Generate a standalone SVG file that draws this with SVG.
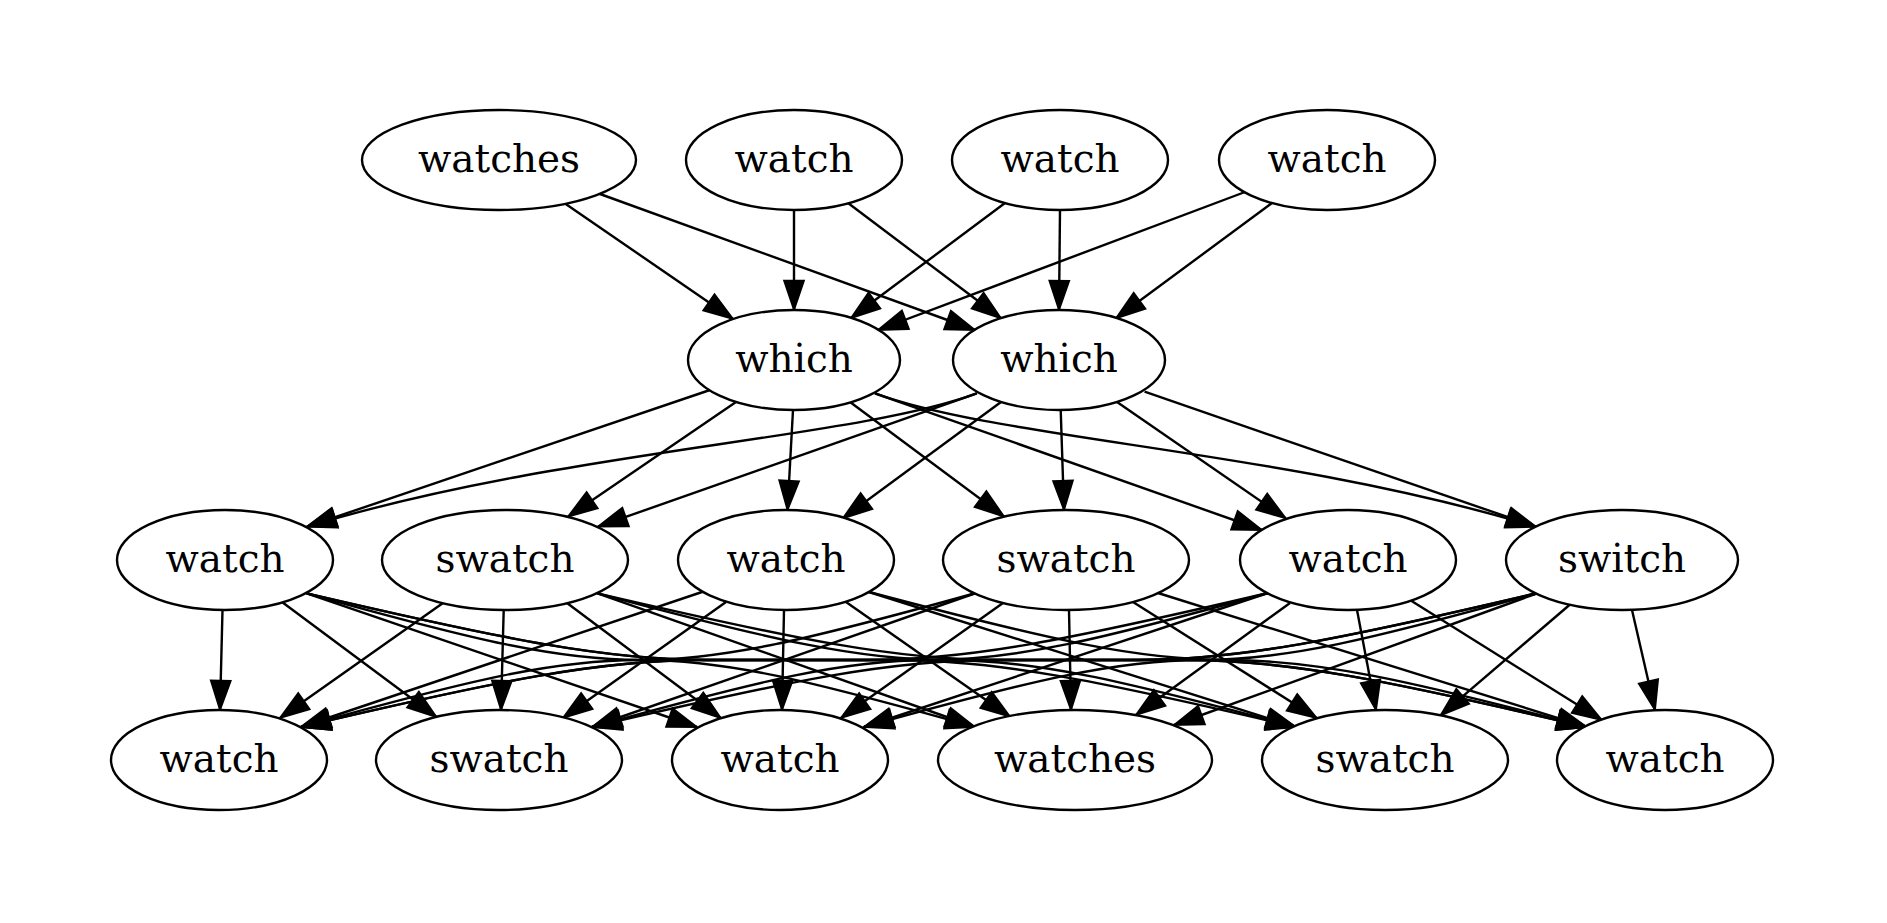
<svg xmlns="http://www.w3.org/2000/svg" width="1887" height="923" viewBox="0 0 1887 923">
<defs>
<style>
.e{fill:none;stroke:#000;stroke-width:2.4;marker-end:url(#ah)}
.n ellipse{fill:#fff;stroke:#000;stroke-width:2.4}
.n text{font-family:"DejaVu Serif","Liberation Serif",serif;font-size:38.9px;text-anchor:middle;fill:#000}
</style>
<marker id="ah" viewBox="0 0 30 20" refX="29" refY="10" markerWidth="30" markerHeight="20" markerUnits="userSpaceOnUse" orient="auto" overflow="visible">
<path d="M0,0.5 L28,10 L0,19.5 Z" fill="#000" stroke="#000" stroke-width="2.4"/>
</marker>
</defs>
<rect width="1887" height="923" fill="#fff"/>
<g id="edges">
<path class="e" d="M565,203.5 L733,319"/>
<path class="e" d="M600,194 L975,330"/>
<path class="e" d="M794,210 L794,310"/>
<path class="e" d="M848,203 L1001,318.3"/>
<path class="e" d="M1005,203 L851,318"/>
<path class="e" d="M1060,210 L1059,310"/>
<path class="e" d="M1245,192 L878,330"/>
<path class="e" d="M1272,203 L1116,318.3"/>

<path class="e" d="M710,390 L307,526.7"/>
<path class="e" d="M736,402 L568,516.7"/>
<path class="e" d="M793,410 L787.5,510"/>
<path class="e" d="M850,402 L1004,516.5"/>
<path class="e" d="M875,393.3 L1262,530"/>
<path class="e" d="M875,393.3 C1002,440 1283,450 1535.7,526.7"/>
<path class="e" d="M976.8,393.3 C850,440 560,450 307,526.7"/>
<path class="e" d="M976.8,393.3 L598,526.7"/>
<path class="e" d="M1001,402 L842.9,518.3"/>
<path class="e" d="M1060.7,410 L1064,510"/>
<path class="e" d="M1117,402 L1285.7,518.3"/>
<path class="e" d="M1144.6,391.7 L1535.7,526.7"/>

<path class="e" d="M222.5,610 L220,710"/>
<path class="e" d="M282,602 L436.5,717"/>
<path class="e" d="M306.7,593.3 L697,727"/>
<path class="e" d="M306.7,593.3 C473.7,640 557.2,660 640.7,660 L641,660 C725.5,660 808,680 975,727"/>
<path class="e" d="M306.7,593.3 C506.7,640 606.7,660 706.7,660 L895.7,660 C995.7,660 1095.7,680 1295.7,727"/>
<path class="e" d="M306.7,593.3 C506.7,640 606.7,660 706.7,660 L1186.5,660 C1286.5,660 1386.5,680 1586.5,727"/>

<path class="e" d="M443,603 L280,718"/>
<path class="e" d="M503.7,610 L501,710"/>
<path class="e" d="M567,603 L720.8,718"/>
<path class="e" d="M597.5,593.3 L975,727"/>
<path class="e" d="M597.5,593.3 C772,640 859.3,660 946.5,660 L946.7,660 C1034,660 1121.2,680 1295.7,727"/>
<path class="e" d="M597.5,593.3 C797.5,640 897.5,660 997.5,660 L1186.5,660 C1286.5,660 1386.5,680 1586.5,727"/>

<path class="e" d="M702,592 L301,727"/>
<path class="e" d="M726,602 L563,718"/>
<path class="e" d="M784,610 L782,710"/>
<path class="e" d="M846,602 L1010,716.7"/>
<path class="e" d="M869,592 L1295.7,727"/>
<path class="e" d="M869,592 C1048.4,639.6 1138,660 1227.8,660 L1227.9,660 C1317.4,660 1407.1,680 1586.5,727"/>

<path class="e" d="M976,593 C807.3,640 722.9,660 638.5,660 L638.4,660 C554.1,660 469.8,680 301,727"/>
<path class="e" d="M976,593 L592,727"/>
<path class="e" d="M1003,603 L841,718"/>
<path class="e" d="M1069,610 L1071,710"/>
<path class="e" d="M1133,602 L1316.7,718"/>
<path class="e" d="M1158,593 L1586.5,727"/>

<path class="e" d="M1268,593 C1068,640 968,660 868,660 L701,660 C601,660 501,680 301,727"/>
<path class="e" d="M1268,593 C1099,640 1014.5,660 930,660 L929.9,660 C845.5,660 761,680 592,727"/>
<path class="e" d="M1268,593 L864,727"/>
<path class="e" d="M1290,603 L1136,715"/>
<path class="e" d="M1357,610 L1376,710"/>
<path class="e" d="M1410,600 L1601.8,720"/>

<path class="e" d="M1538,593 C1338,640 1238,660 1138,660 L701,660 C601,660 501,680 301,727"/>
<path class="e" d="M1538,593 C1338,640 1238,660 1138,660 L992,660 C892,660 792,680 592,727"/>
<path class="e" d="M1538,593 C1369.5,640 1285.3,660 1201,660 L1200.9,660 C1116.8,660 1032.5,680 864,727"/>
<path class="e" d="M1538,593 L1174,725"/>
<path class="e" d="M1570,604.5 L1440.5,715.4"/>
<path class="e" d="M1632,610 L1655,710"/>
</g>
<g id="n_watches_top" class="n"><ellipse cx="499" cy="160" rx="137" ry="50"/><text x="499" y="172">watches</text></g>
<g id="n_watch_top1" class="n"><ellipse cx="794" cy="160" rx="108" ry="50"/><text x="794" y="172">watch</text></g>
<g id="n_watch_top2" class="n"><ellipse cx="1060" cy="160" rx="108" ry="50"/><text x="1060" y="172">watch</text></g>
<g id="n_watch_top3" class="n"><ellipse cx="1327" cy="160" rx="108" ry="50"/><text x="1327" y="172">watch</text></g>

<g id="n_which1" class="n"><ellipse cx="794" cy="360" rx="106" ry="50"/><text x="794" y="372">which</text></g>
<g id="n_which2" class="n"><ellipse cx="1059" cy="360" rx="106" ry="50"/><text x="1059" y="372">which</text></g>

<g id="n_watch_m1" class="n"><ellipse cx="225" cy="560" rx="108" ry="50"/><text x="225" y="572">watch</text></g>
<g id="n_swatch_m1" class="n"><ellipse cx="505" cy="560" rx="123" ry="50"/><text x="505" y="572">swatch</text></g>
<g id="n_watch_m2" class="n"><ellipse cx="786" cy="560" rx="108" ry="50"/><text x="786" y="572">watch</text></g>
<g id="n_swatch_m2" class="n"><ellipse cx="1066" cy="560" rx="123" ry="50"/><text x="1066" y="572">swatch</text></g>
<g id="n_watch_m3" class="n"><ellipse cx="1348" cy="560" rx="108" ry="50"/><text x="1348" y="572">watch</text></g>
<g id="n_switch" class="n"><ellipse cx="1622" cy="560" rx="116" ry="50"/><text x="1622" y="572">switch</text></g>

<g id="n_watch_b1" class="n"><ellipse cx="219" cy="760" rx="108" ry="50"/><text x="219" y="772">watch</text></g>
<g id="n_swatch_b1" class="n"><ellipse cx="499" cy="760" rx="123" ry="50"/><text x="499" y="772">swatch</text></g>
<g id="n_watch_b2" class="n"><ellipse cx="780" cy="760" rx="108" ry="50"/><text x="780" y="772">watch</text></g>
<g id="n_watches_b" class="n"><ellipse cx="1075" cy="760" rx="137" ry="50"/><text x="1075" y="772">watches</text></g>
<g id="n_swatch_b2" class="n"><ellipse cx="1385" cy="760" rx="123" ry="50"/><text x="1385" y="772">swatch</text></g>
<g id="n_watch_b3" class="n"><ellipse cx="1665" cy="760" rx="108" ry="50"/><text x="1665" y="772">watch</text></g>
</svg>
